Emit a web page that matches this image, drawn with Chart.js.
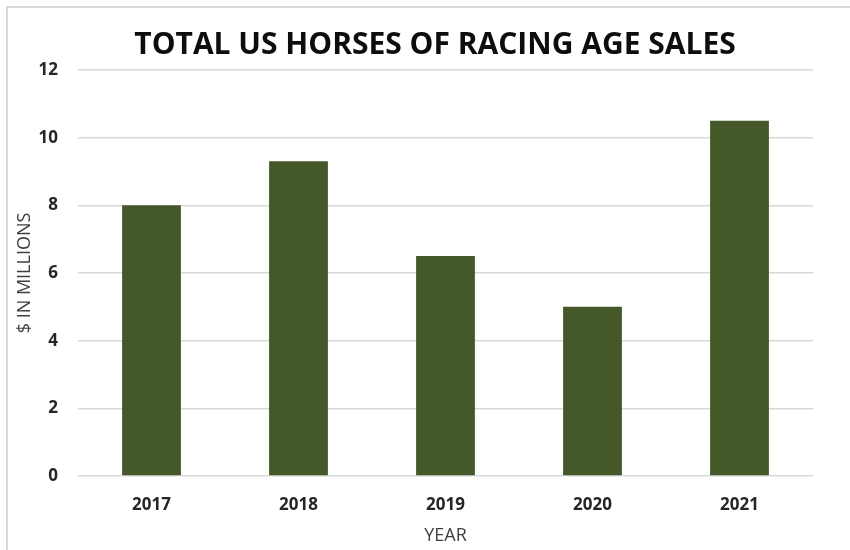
<!DOCTYPE html>
<html>
<head>
<meta charset="utf-8">
<script src="https://cdn.jsdelivr.net/npm/chart.js@4/dist/chart.umd.min.js"></script>
<style>
  html, body { margin: 0; padding: 0; background: #ffffff; }
  #wrap { width: 850px; height: 550px; position: relative; }
</style>
</head>
<body>
<div id="wrap"><canvas id="c" width="850" height="550"></canvas></div>
<script>
const categories = ["2017", "2018", "2019", "2020", "2021"];
const salesMillions = [8, 9.3, 6.5, 5, 10.5];
const yTicks = [0, 2, 4, 6, 8, 10, 12];
const chartTitle = "TOTAL US HORSES OF RACING AGE SALES";
const xTitle = "YEAR";
const yTitle = "$ IN MILLIONS";

const FONT = "'Open Sans', 'Liberation Sans', sans-serif";

const framePlugin = {
  id: 'frame',
  afterLayout(chart) {
    // centre the chart title a little to the right, as in the reference
    if (chart.titleBlock) {
      chart.titleBlock.left = 20;
      chart.titleBlock.right = chart.width;
    }
  },
  beforeDraw(chart) {
    const ctx = chart.ctx;
    ctx.save();
    ctx.fillStyle = '#ffffff';
    ctx.fillRect(0, 0, chart.width, chart.height);
    ctx.strokeStyle = '#d9d9d9';
    ctx.lineWidth = 2;
    ctx.beginPath();
    ctx.moveTo(7, chart.height);
    ctx.lineTo(7, 7);
    ctx.lineTo(chart.width, 7);
    ctx.stroke();
    ctx.restore();
  }
};

new Chart(document.getElementById('c'), {
  type: 'bar',
  data: {
    labels: categories,
    datasets: [{
      data: salesMillions,
      backgroundColor: '#44582a',
      borderWidth: 0,
      categoryPercentage: 1.0,
      barPercentage: 0.4
    }]
  },
  options: {
    responsive: false,
    animation: false,
    devicePixelRatio: 1,
    layout: { padding: { left: 0, right: 37, top: 0, bottom: 0 } },
    plugins: {
      legend: { display: false },
      tooltip: { enabled: false },
      title: {
        display: true,
        text: chartTitle,
        color: '#0d0d0d',
        font: { family: FONT, size: 30, weight: 'bold', lineHeight: 1.2 },
        padding: { top: 27, bottom: 7 }
      }
    },
    scales: {
      x: {
        grid: { display: false, drawTicks: false },
        border: { display: false },
        ticks: {
          color: '#262626',
          font: { family: FONT, size: 17, weight: 'bold', lineHeight: 1.2 },
          padding: 19
        },
        title: {
          display: true,
          text: xTitle,
          color: '#404040',
          font: { family: FONT, size: 18, lineHeight: 1.2 },
          padding: { top: 0, bottom: 3 }
        },
        afterFit(scale) { scale.height = 74; }
      },
      y: {
        min: 0,
        max: 12,
        afterBuildTicks(scale) { scale.ticks = yTicks.map(v => ({ value: v })); },
        grid: { color: '#d9d9d9', lineWidth: 1.5, drawTicks: false },
        border: { display: false },
        ticks: {
          color: '#262626',
          font: { family: FONT, size: 17, weight: 'bold' },
          padding: 20
        },
        title: {
          display: true,
          text: yTitle,
          color: '#404040',
          font: { family: FONT, size: 18, lineHeight: 1.2 },
          padding: { top: 14, bottom: 0 }
        },
        afterFit(scale) { scale.width = 78; }
      }
    }
  },
  plugins: [framePlugin]
});
</script>
</body>
</html>
